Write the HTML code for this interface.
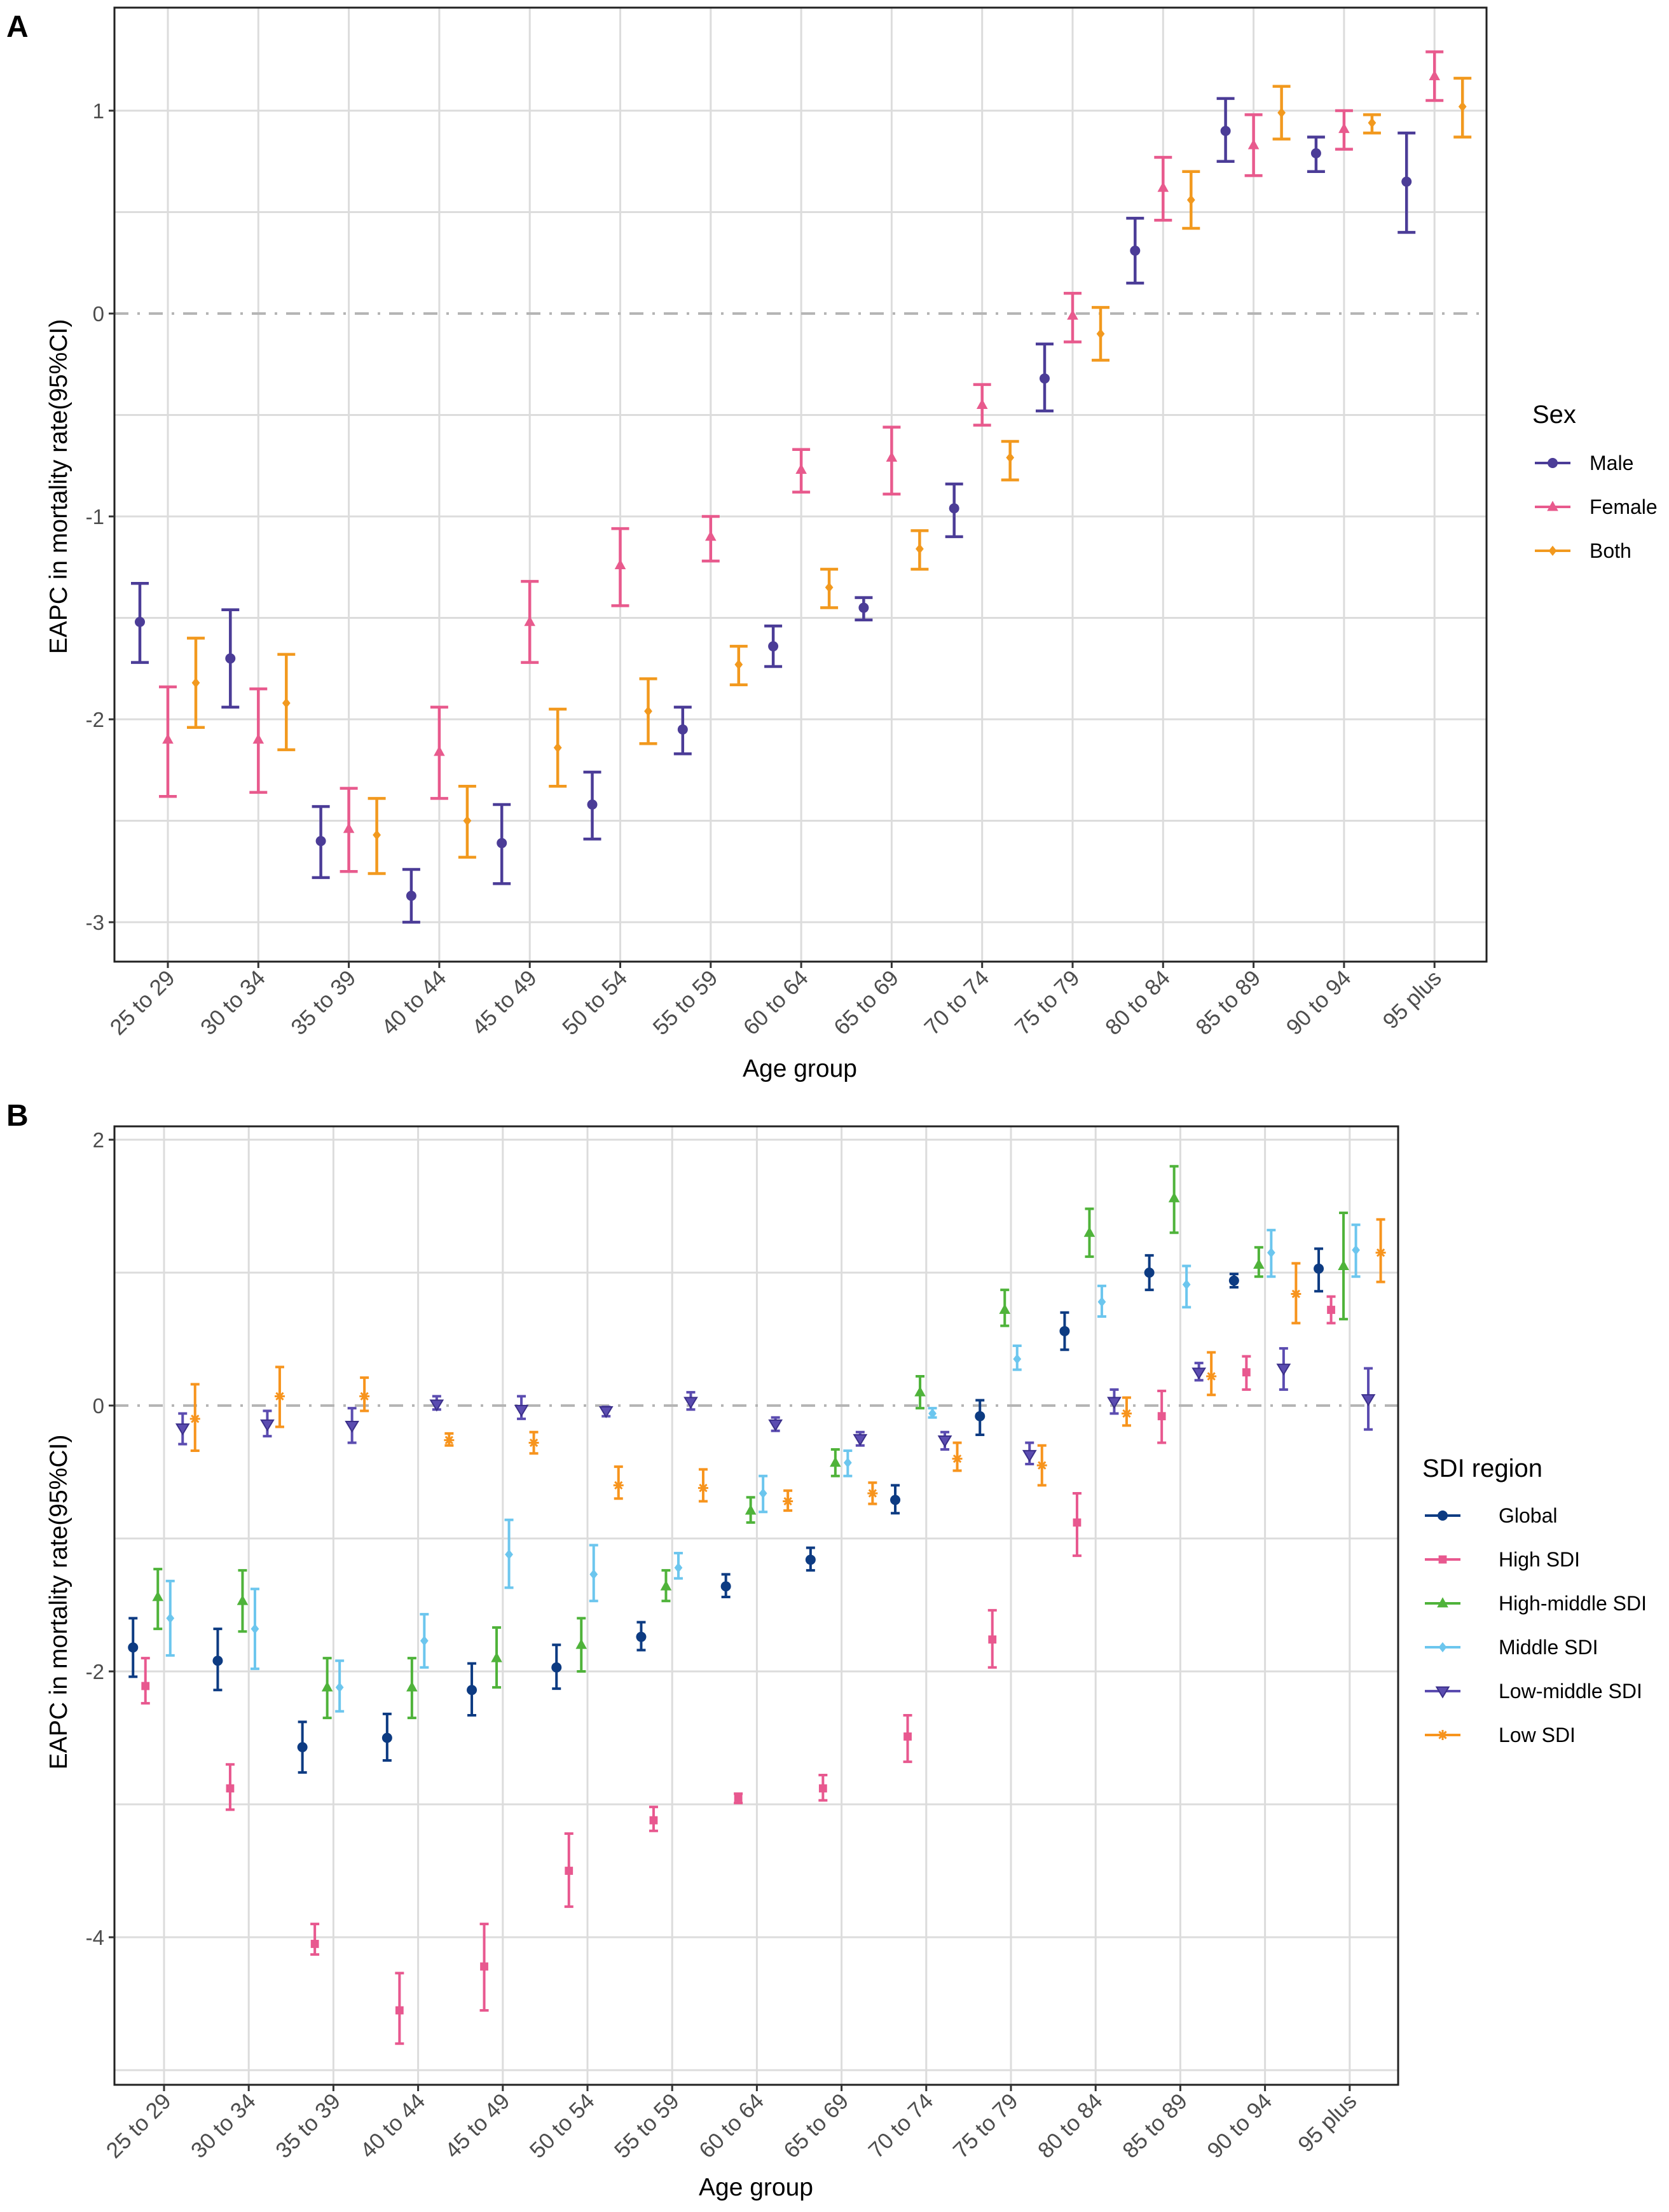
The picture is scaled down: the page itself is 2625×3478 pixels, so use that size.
<!DOCTYPE html>
<html><head><meta charset="utf-8"><style>
html,body{margin:0;padding:0;background:#fff;}
svg{display:block;font-family:"Liberation Sans",Arial,sans-serif;}
</style></head><body>
<svg id="chart" width="2625" height="3478" viewBox="0 0 2625 3478" xmlns="http://www.w3.org/2000/svg">
<rect x="0" y="0" width="2625" height="3478" fill="#fff"/>
<g id="panelA"></g>
<g id="panelB"></g>
</svg>
<script>
const categories = ["25 to 29","30 to 34","35 to 39","40 to 44","45 to 49","50 to 54","55 to 59","60 to 64","65 to 69","70 to 74","75 to 79","80 to 84","85 to 89","90 to 94","95 plus"];
// Panel A
const aTicks = [-3,-2,-1,0,1];
const aGrid = [-3,-2.5,-2,-1.5,-1,-0.5,0,0.5,1];
const maleVal = [-1.52,-1.70,-2.60,-2.87,-2.61,-2.42,-2.05,-1.64,-1.45,-0.96,-0.32,0.31,0.90,0.79,0.65];
const maleLo = [-1.72,-1.94,-2.78,-3.00,-2.81,-2.59,-2.17,-1.74,-1.51,-1.10,-0.48,0.15,0.75,0.70,0.40];
const maleHi = [-1.33,-1.46,-2.43,-2.74,-2.42,-2.26,-1.94,-1.54,-1.40,-0.84,-0.15,0.47,1.06,0.87,0.89];
const femaleVal = [-2.10,-2.10,-2.54,-2.16,-1.52,-1.24,-1.10,-0.77,-0.71,-0.45,-0.01,0.62,0.83,0.91,1.17];
const femaleLo = [-2.38,-2.36,-2.75,-2.39,-1.72,-1.44,-1.22,-0.88,-0.89,-0.55,-0.14,0.46,0.68,0.81,1.05];
const femaleHi = [-1.84,-1.85,-2.34,-1.94,-1.32,-1.06,-1.00,-0.67,-0.56,-0.35,0.10,0.77,0.98,1.00,1.29];
const bothVal = [-1.82,-1.92,-2.57,-2.50,-2.14,-1.96,-1.73,-1.35,-1.16,-0.71,-0.10,0.56,0.99,0.94,1.02];
const bothLo = [-2.04,-2.15,-2.76,-2.68,-2.33,-2.12,-1.83,-1.45,-1.26,-0.82,-0.23,0.42,0.86,0.89,0.87];
const bothHi = [-1.60,-1.68,-2.39,-2.33,-1.95,-1.80,-1.64,-1.26,-1.07,-0.63,0.03,0.70,1.12,0.98,1.16];
// Panel B
const bTicks = [-4,-2,0,2];
const bGrid = [-5,-4,-3,-2,-1,0,1,2];
const globalVal = [-1.82,-1.92,-2.57,-2.50,-2.14,-1.97,-1.74,-1.36,-1.16,-0.71,-0.08,0.56,1.00,0.94,1.03];
const globalLo = [-2.04,-2.14,-2.76,-2.67,-2.33,-2.13,-1.84,-1.44,-1.24,-0.81,-0.22,0.42,0.87,0.89,0.86];
const globalHi = [-1.60,-1.68,-2.38,-2.32,-1.94,-1.80,-1.63,-1.27,-1.07,-0.60,0.04,0.70,1.13,0.99,1.18];
const highVal = [-2.11,-2.88,-4.05,-4.55,-4.22,-3.50,-3.12,-2.95,-2.88,-2.49,-1.76,-0.88,-0.08,0.25,0.72];
const highLo = [-2.24,-3.04,-4.13,-4.80,-4.55,-3.77,-3.20,-2.99,-2.97,-2.68,-1.97,-1.13,-0.28,0.12,0.62];
const highHi = [-1.90,-2.70,-3.90,-4.27,-3.90,-3.22,-3.02,-2.92,-2.78,-2.33,-1.54,-0.66,0.11,0.37,0.82];
const hmVal = [-1.44,-1.47,-2.12,-2.12,-1.90,-1.80,-1.36,-0.79,-0.43,0.10,0.72,1.30,1.56,1.06,1.05];
const hmLo = [-1.68,-1.70,-2.35,-2.35,-2.12,-2.00,-1.47,-0.88,-0.53,-0.02,0.60,1.12,1.30,0.97,0.65];
const hmHi = [-1.23,-1.24,-1.90,-1.90,-1.67,-1.60,-1.24,-0.69,-0.33,0.22,0.87,1.48,1.80,1.19,1.45];
const midVal = [-1.60,-1.68,-2.12,-1.77,-1.12,-1.27,-1.22,-0.66,-0.43,-0.06,0.35,0.78,0.91,1.15,1.17];
const midLo = [-1.88,-1.98,-2.30,-1.97,-1.37,-1.47,-1.30,-0.80,-0.53,-0.09,0.27,0.67,0.74,0.97,0.97];
const midHi = [-1.32,-1.38,-1.92,-1.57,-0.86,-1.05,-1.11,-0.53,-0.34,-0.02,0.45,0.90,1.05,1.32,1.36];
const lmVal = [-0.17,-0.14,-0.15,0.01,-0.03,-0.04,0.03,-0.14,-0.25,-0.26,-0.37,0.03,0.25,0.28,0.05];
const lmLo = [-0.29,-0.23,-0.28,-0.03,-0.10,-0.08,-0.03,-0.19,-0.30,-0.33,-0.44,-0.06,0.19,0.12,-0.18];
const lmHi = [-0.06,-0.04,-0.02,0.07,0.07,-0.01,0.10,-0.09,-0.20,-0.20,-0.28,0.12,0.32,0.43,0.28];
const lowVal = [-0.10,0.07,0.07,-0.26,-0.28,-0.60,-0.62,-0.72,-0.66,-0.40,-0.45,-0.06,0.22,0.84,1.15];
const lowLo = [-0.34,-0.16,-0.04,-0.30,-0.36,-0.70,-0.72,-0.79,-0.74,-0.49,-0.60,-0.15,0.08,0.62,0.93];
const lowHi = [0.16,0.29,0.21,-0.21,-0.20,-0.46,-0.48,-0.64,-0.58,-0.28,-0.30,0.06,0.40,1.07,1.40];

const NS = "http://www.w3.org/2000/svg";
function mk(parent, tag, attrs, text){
  const e = document.createElementNS(NS, tag);
  for (const k in attrs) e.setAttribute(k, attrs[k]);
  if (text !== undefined) e.textContent = text;
  parent.appendChild(e);
  return e;
}
function shape(g, kind, cx, cy, s, color){
  let e;
  if (kind === "circle") e = mk(g, "circle", {cx:cx, cy:cy, r:s, fill:color});
  else if (kind === "tri") e = mk(g, "polygon", {points:`${cx},${cy-s*1.2} ${cx-s*1.1},${cy+s*0.8} ${cx+s*1.1},${cy+s*0.8}`, fill:color});
  else if (kind === "tridown") e = mk(g, "polygon", {points:`${cx},${cy+s*1.2} ${cx-s*1.2},${cy-s*0.8} ${cx+s*1.2},${cy-s*0.8}`, fill:color, stroke:"#3b2f8a", "stroke-width":2});
  else if (kind === "diamond") e = mk(g, "polygon", {points:`${cx},${cy-s} ${cx+s*0.8},${cy} ${cx},${cy+s} ${cx-s*0.8},${cy}`, fill:color});
  else if (kind === "square") e = mk(g, "rect", {x:cx-s*0.8, y:cy-s*0.8, width:s*1.6, height:s*1.6, fill:color});
  else if (kind === "star") {
    e = mk(g, "path", {d:`M${cx-s},${cy} L${cx+s},${cy} M${cx},${cy-s} L${cx},${cy+s} M${cx-s*0.7},${cy-s*0.7} L${cx+s*0.7},${cy+s*0.7} M${cx-s*0.7},${cy+s*0.7} L${cx+s*0.7},${cy-s*0.7}`, stroke:color, "stroke-width":3, fill:"none"});
  }
  return e;
}

function panel(root, cfg){
  const {L,R,T,B,x0,step,y0,unit} = cfg;
  const xs = i => x0 + i*step;
  const ys = v => y0 - v*unit;
  const grid = mk(root, "g", {});
  
  
  cfg.grid.forEach(v => { if (v!==0) mk(grid, "line", {x1:L, x2:R, y1:ys(v), y2:ys(v), stroke:"#dcdcdc", "stroke-width":3}); });
  categories.forEach((c,i) => mk(grid, "line", {x1:xs(i), x2:xs(i), y1:T, y2:B, stroke:"#dcdcdc", "stroke-width":3}));
  const zl = mk(root, "line", {x1:L, x2:R, y1:ys(0), y2:ys(0), stroke:"#b5b5b5", "stroke-width":4, "stroke-dasharray":"22 14 4 14"});
  
  
  cfg.series.forEach((s, k) => {
    const g = mk(root, "g", {});
    
    
    const off = (k - (cfg.series.length-1)/2) * cfg.dodge;
    s.val.forEach((v,i) => {
      const cx = xs(i) + off;
      const eb = mk(g, "path", {d:`M${cx},${ys(s.lo[i])} L${cx},${ys(s.hi[i])} M${cx-cfg.cap},${ys(s.lo[i])} L${cx+cfg.cap},${ys(s.lo[i])} M${cx-cfg.cap},${ys(s.hi[i])} L${cx+cfg.cap},${ys(s.hi[i])}`, stroke:s.color, "stroke-width":cfg.lw, fill:"none"});
      
      
      const p = shape(g, s.shape, cx, ys(v), cfg.ps, s.color);
      
      
    });
  });
  const fr = mk(root, "rect", {x:L, y:T, width:R-L, height:B-T, fill:"none", stroke:"#222", "stroke-width":3});
  
  
  const ya = mk(root, "g", {});
  
  
  cfg.ticks.forEach(v => {
    mk(ya, "line", {x1:L-9, x2:L, y1:ys(v), y2:ys(v), stroke:"#333", "stroke-width":3});
    const t = mk(ya, "text", {x:L-16, y:ys(v)+12, "text-anchor":"end", "font-size":33, fill:"#4d4d4d"}, String(v));
    
    
  });
  const xa = mk(root, "g", {});
  
  
  categories.forEach((c,i) => {
    mk(xa, "line", {x1:xs(i), x2:xs(i), y1:B, y2:B+10, stroke:"#333", "stroke-width":3});
    const tx = xs(i)+13, ty = B+28;
    const t = mk(xa, "text", {x:tx, y:ty, "text-anchor":"end", "font-size":35, fill:"#4d4d4d", transform:`rotate(-45 ${tx} ${ty})`}, c);
    
    
  });
  const xt = mk(root, "text", {x:cfg.xtx, y:cfg.xty, "text-anchor":"middle", "font-size":39, fill:"#000"}, "Age group");
  
  
  const yt = mk(root, "text", {x:0, y:0, "text-anchor":"middle", "font-size":39, fill:"#000", transform:`translate(${cfg.ytx} ${cfg.yty}) rotate(-90)`}, "EAPC in mortality rate(95%CI)");
  
  
  const pl = mk(root, "text", {x:cfg.lblx, y:cfg.lbly, "font-size":48, "font-weight":"bold", fill:"#000"}, cfg.label);
  
  
  const lg = mk(root, "g", {});
  
  
  const lt = mk(lg, "text", {x:cfg.legX, y:cfg.legTitleY, "font-size":40, fill:"#000"}, cfg.legTitle);
  
  
  cfg.series.forEach((s,k) => {
    const cy = cfg.legY0 + k*cfg.legStep;
    const e = mk(lg, "g", {});
    
    
    mk(e, "line", {x1:cfg.legX+4, x2:cfg.legX+60, y1:cy, y2:cy, stroke:s.color, "stroke-width":4});
    shape(e, s.shape, cfg.legX+32, cy, cfg.ps, s.color);
    mk(e, "text", {x:cfg.legX+cfg.legTextDx, y:cy+11, "font-size":32, fill:"#000"}, s.label);
  });
}

panel(document.getElementById("panelA"), {
  L:180, R:2338, T:12, B:1512, x0:264, step:142.3, y0:493, unit:319,
  grid:aGrid, ticks:aTicks, dodge:44, cap:14, lw:4.5, ps:8,
  xtx:1258, xty:1693, ytx:105, yty:765, label:"A", lblx:10, lbly:58,
  legTitle:"Sex", legX:2410, legTitleY:665, legY0:728, legStep:69, legTextDx:90,
  series:[
    {id:"male", label:"Male", color:"#4b3c97", shape:"circle", val:maleVal, lo:maleLo, hi:maleHi},
    {id:"female", label:"Female", color:"#e85a8d", shape:"tri", val:femaleVal, lo:femaleLo, hi:femaleHi},
    {id:"both", label:"Both", color:"#f2991e", shape:"diamond", val:bothVal, lo:bothLo, hi:bothHi}
  ]
});
panel(document.getElementById("panelB"), {
  L:180, R:2199, T:1771, B:3278, x0:258, step:133.2, y0:2210, unit:209,
  grid:bGrid, ticks:bTicks, dodge:19.5, cap:7, lw:4, ps:8,
  xtx:1189, xty:3452, ytx:105, yty:2519, label:"B", lblx:10, lbly:1770,
  legTitle:"SDI region", legX:2237, legTitleY:2322, legY0:2383, legStep:69, legTextDx:120,
  series:[
    {id:"global", label:"Global", color:"#0d3b82", shape:"circle", val:globalVal, lo:globalLo, hi:globalHi},
    {id:"high-sdi", label:"High SDI", color:"#e8588f", shape:"square", val:highVal, lo:highLo, hi:highHi},
    {id:"high-middle-sdi", label:"High-middle SDI", color:"#4fb33a", shape:"tri", val:hmVal, lo:hmLo, hi:hmHi},
    {id:"middle-sdi", label:"Middle SDI", color:"#6cc6ee", shape:"diamond", val:midVal, lo:midLo, hi:midHi},
    {id:"low-middle-sdi", label:"Low-middle SDI", color:"#5b4cb0", shape:"tridown", val:lmVal, lo:lmLo, hi:lmHi},
    {id:"low-sdi", label:"Low SDI", color:"#f7941d", shape:"star", val:lowVal, lo:lowLo, hi:lowHi}
  ]
});
</script>
</body></html>
